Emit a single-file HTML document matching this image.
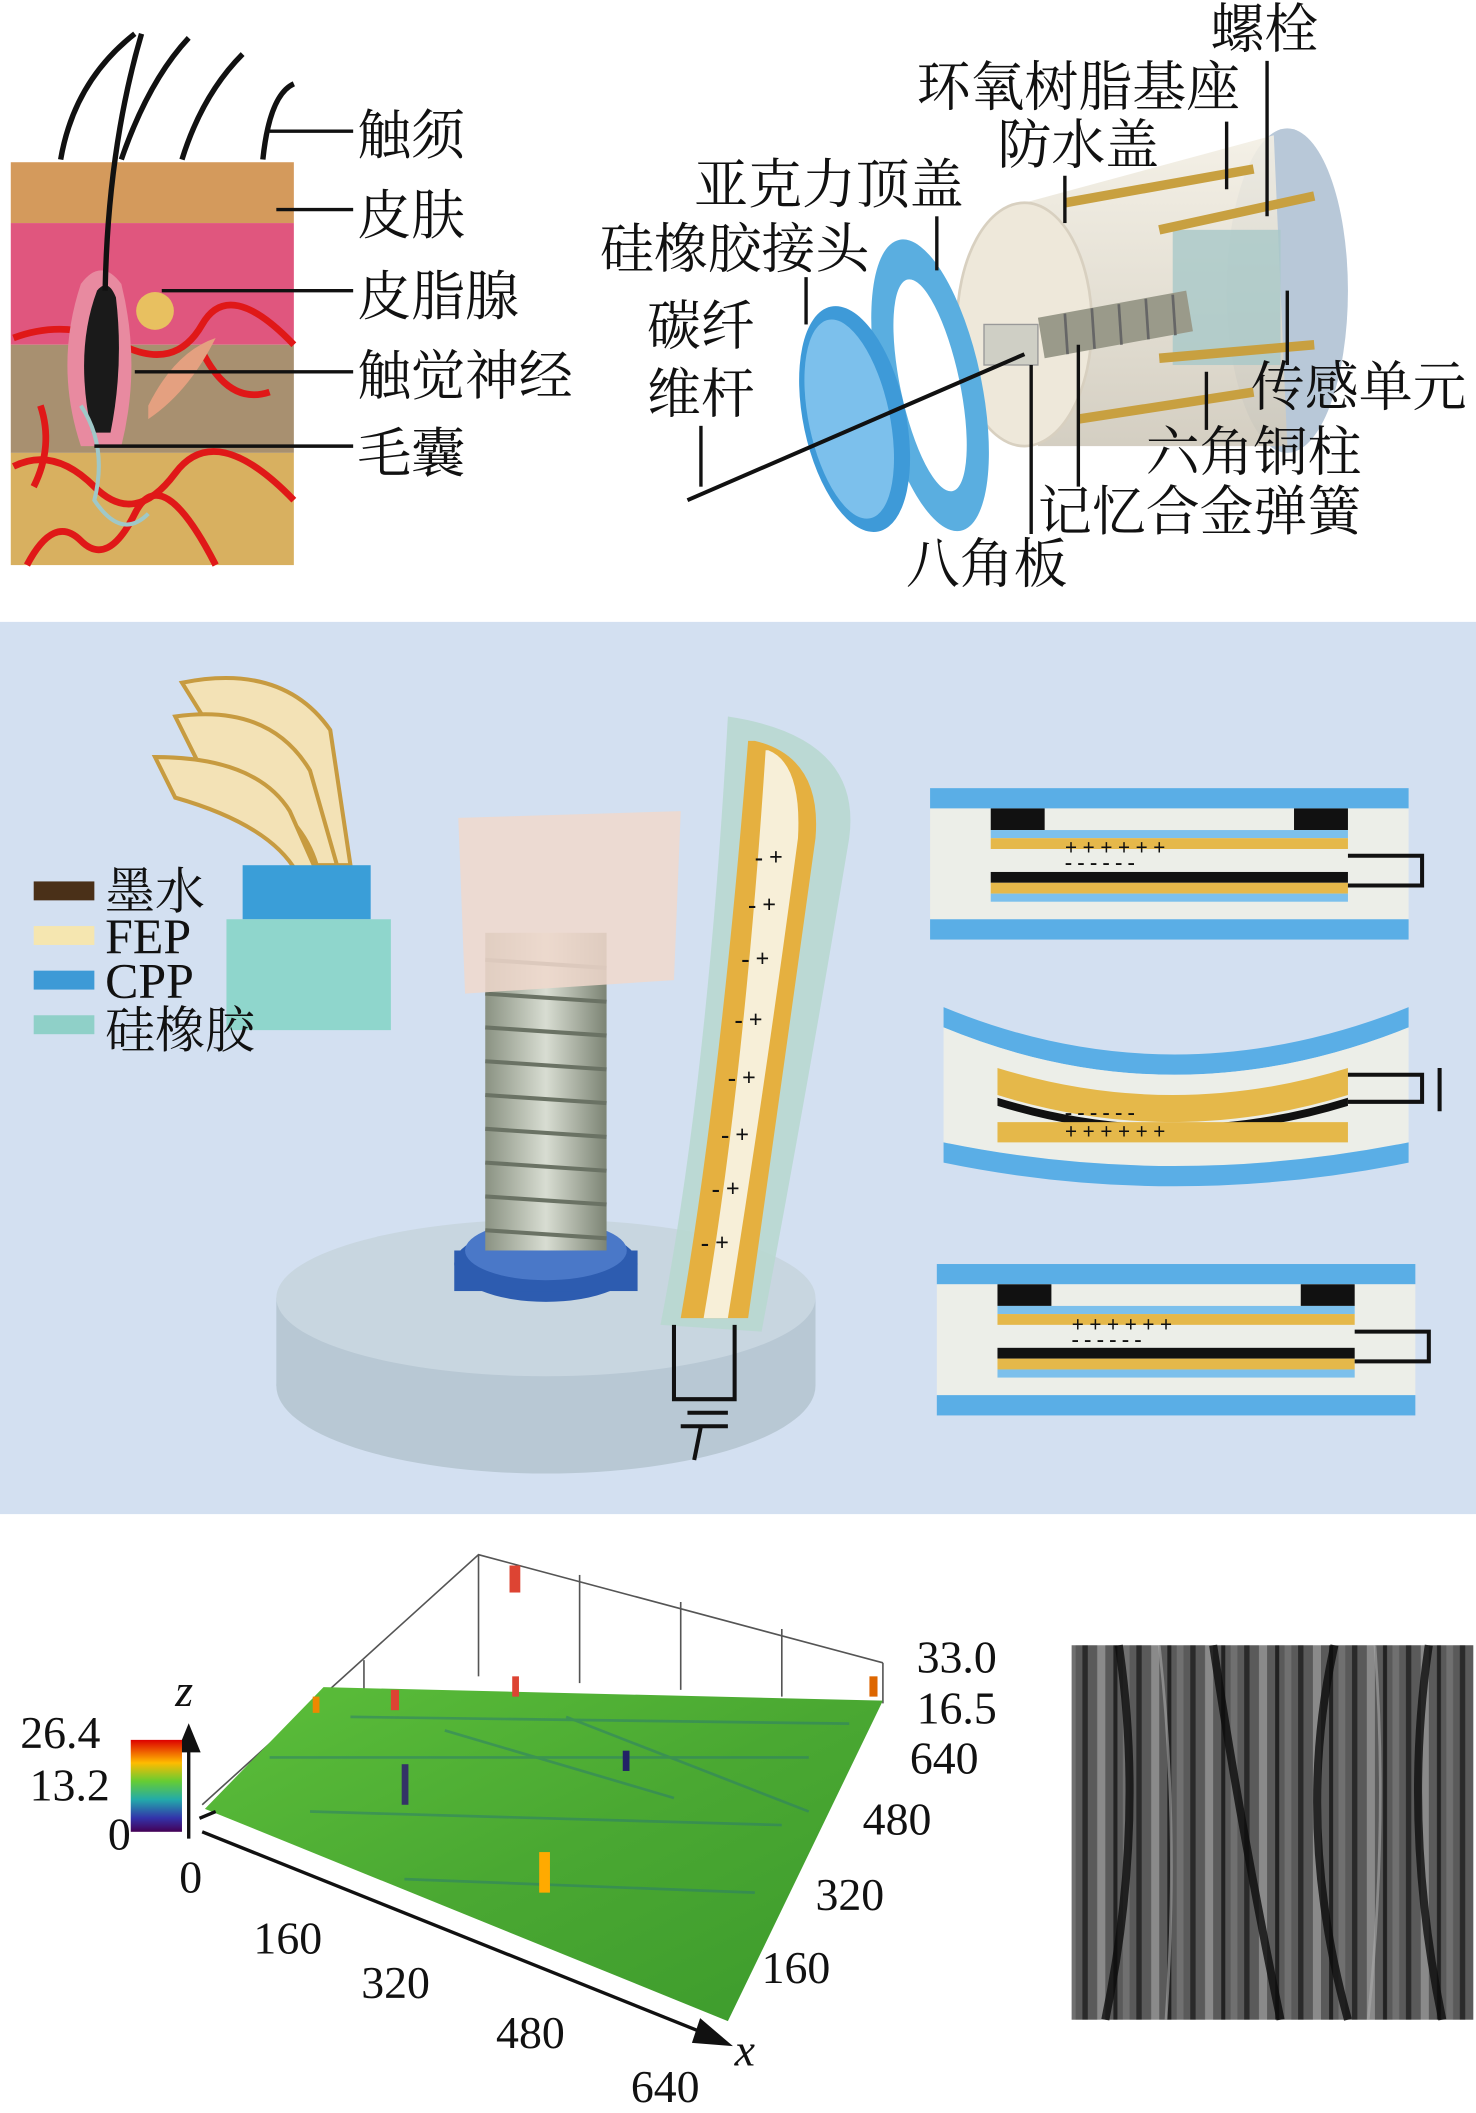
<!DOCTYPE html>
<html><head><meta charset="utf-8"><style>
html,body{margin:0;padding:0;background:#fff;}
svg{display:block;}
text{font-family:"Liberation Serif","Noto Serif CJK SC",serif;fill:#111;}
</style></head><body>
<svg width="1476" height="2113" viewBox="0 0 1095 1563" preserveAspectRatio="none" xmlns="http://www.w3.org/2000/svg">
<defs>
<linearGradient id="rb" x1="0" y1="0" x2="0" y2="1">
<stop offset="0" stop-color="#d00"/><stop offset="0.25" stop-color="#fb0"/><stop offset="0.45" stop-color="#6c3"/><stop offset="0.65" stop-color="#2aa"/><stop offset="0.85" stop-color="#33a"/><stop offset="1" stop-color="#405"/></linearGradient>
<linearGradient id="cyl" x1="0" y1="0" x2="0" y2="1">
<stop offset="0" stop-color="#f3efe4"/><stop offset="0.5" stop-color="#e2ddd0"/><stop offset="1" stop-color="#cfc9bb"/></linearGradient>
<linearGradient id="bolt" x1="0" y1="0" x2="1" y2="0">
<stop offset="0" stop-color="#8a9282"/><stop offset="0.5" stop-color="#d8ddd2"/><stop offset="1" stop-color="#7c8474"/></linearGradient>
<linearGradient id="grn" x1="0" y1="0" x2="1" y2="1">
<stop offset="0" stop-color="#5cbf3a"/><stop offset="0.5" stop-color="#4aa832"/><stop offset="1" stop-color="#3c9a2c"/></linearGradient>
<pattern id="sem" width="40" height="20" patternUnits="userSpaceOnUse">
<rect width="40" height="20" fill="#5a5a5a"/><rect x="3" width="4" height="20" fill="#2a2a2a"/><rect x="14" width="6" height="20" fill="#8a8a8a"/><rect x="26" width="3" height="20" fill="#222"/><rect x="33" width="5" height="20" fill="#707070"/></pattern>
</defs>

<!-- ===== Skin ===== -->
<rect x="8" y="120" width="210" height="45" fill="#d49a5c"/>
<rect x="8" y="165" width="210" height="90" fill="#e0567e"/>
<rect x="8" y="255" width="210" height="80" fill="#a89070"/>
<rect x="8" y="335" width="210" height="83" fill="#d8b060"/>
<g stroke="#e01818" stroke-width="5" fill="none">
<path d="M10 250 Q50 235 90 255 T150 240 T218 255"/>
<path d="M10 345 Q40 330 70 360 T130 350 T218 370"/>
<path d="M20 418 Q40 380 60 400 T100 380 T160 418"/>
<path d="M150 260 Q170 300 200 290"/>
<path d="M30 300 Q40 330 25 360"/>
</g>
<path d="M60 330 Q40 270 60 210 Q75 190 90 210 Q105 270 90 330 Z" fill="#e88aa0"/>
<path d="M68 320 Q55 260 72 215 Q80 205 86 220 Q92 270 82 320 Z" fill="#1a1a1a"/>
<path d="M110 300 Q130 260 160 250 Q140 290 110 310Z" fill="#e4a080"/>
<path d="M60 300 Q80 330 70 370 Q90 400 110 380" stroke="#9fc8c8" stroke-width="3" fill="none"/>
<circle cx="115" cy="230" r="14" fill="#e8c060"/>
<g stroke="#111" stroke-width="4" fill="none">
<path d="M78 215 Q80 110 105 25"/>
<path d="M45 118 Q55 60 100 25"/>
<path d="M90 118 Q110 60 140 28"/>
<path d="M135 118 Q150 70 180 40"/>
<path d="M195 118 Q200 70 218 62"/>
</g>
<g stroke="#111" stroke-width="2.5">
<line x1="200" y1="97" x2="262" y2="97"/>
<line x1="205" y1="155" x2="262" y2="155"/>
<line x1="120" y1="215" x2="262" y2="215"/>
<line x1="100" y1="275" x2="262" y2="275"/>
<line x1="70" y1="330" x2="262" y2="330"/>
</g>
<g font-size="40">
<text x="265" y="114">触须</text>
<text x="265" y="173">皮肤</text>
<text x="265" y="233">皮脂腺</text>
<text x="265" y="292">触觉神经</text>
<text x="265" y="349">毛囊</text>
</g>

<!-- ===== Device ===== -->
<ellipse cx="955" cy="215" rx="45" ry="120" fill="#b8c8d8"/>
<path d="M760 150 L945 100 L955 330 L770 330 Z" fill="url(#cyl)" opacity="0.9"/>
<ellipse cx="760" cy="240" rx="50" ry="90" fill="#eee8da" stroke="#d8d0c0" stroke-width="2"/>
<rect x="870" y="170" width="80" height="100" fill="#a8c8c8" opacity="0.8"/>
<g stroke="#c8a040" stroke-width="7">
<line x1="790" y1="150" x2="930" y2="125"/>
<line x1="800" y1="310" x2="930" y2="290"/>
<line x1="860" y1="170" x2="975" y2="145"/>
<line x1="860" y1="265" x2="975" y2="255"/>
</g>
<path d="M770 235 L880 215 L885 245 L775 265 Z" fill="#9a9a8a"/>
<g stroke="#666" stroke-width="2"><line x1="790" y1="232" x2="792" y2="262"/><line x1="810" y1="228" x2="812" y2="258"/><line x1="830" y1="225" x2="832" y2="255"/><line x1="850" y1="221" x2="852" y2="251"/><line x1="870" y1="218" x2="872" y2="248"/></g>
<rect x="730" y="240" width="40" height="30" fill="#cfcfc5" stroke="#999"/>
<ellipse cx="690" cy="285" rx="38" ry="110" transform="rotate(-12 690 285)" fill="#5aaee0"/>
<ellipse cx="690" cy="285" rx="22" ry="80" transform="rotate(-12 690 285)" fill="#fff"/>
<ellipse cx="634" cy="310" rx="38" ry="85" transform="rotate(-12 634 310)" fill="#3e9ad8"/>
<ellipse cx="630" cy="310" rx="30" ry="75" transform="rotate(-12 630 310)" fill="#7cc0ec"/>
<line x1="510" y1="370" x2="760" y2="262" stroke="#111" stroke-width="3"/>
<g stroke="#111" stroke-width="2.5">
<line x1="940" y1="45" x2="940" y2="160"/>
<line x1="910" y1="90" x2="910" y2="140"/>
<line x1="790" y1="130" x2="790" y2="165"/>
<line x1="695" y1="160" x2="695" y2="200"/>
<line x1="598" y1="205" x2="598" y2="240"/>
<line x1="520" y1="315" x2="520" y2="360"/>
<line x1="955" y1="215" x2="955" y2="270"/>
<line x1="895" y1="275" x2="895" y2="318"/>
<line x1="800" y1="255" x2="800" y2="360"/>
<line x1="765" y1="270" x2="765" y2="395"/>
</g>
<g font-size="40">
<text x="898" y="35">螺栓</text>
<text x="680" y="78">环氧树脂基座</text>
<text x="740" y="121">防水盖</text>
<text x="515" y="150">亚克力顶盖</text>
<text x="445" y="198">硅橡胶接头</text>
<text x="480" y="255">碳纤</text>
<text x="480" y="305">维杆</text>
<text x="928" y="300">传感单元</text>
<text x="850" y="348">六角铜柱</text>
<text x="770" y="392">记忆合金弹簧</text>
<text x="672" y="431">八角板</text>
</g>

<!-- ===== Middle panel ===== -->
<rect x="0" y="460" width="1095" height="660" fill="#d3e0f1"/>
<g stroke="#c79b40" stroke-width="3" fill="#f3e2b6">
<path d="M135 505 Q210 490 245 540 L260 640 L245 640 Q230 560 160 545 Z"/>
<path d="M130 530 Q200 520 230 570 L250 640 L235 640 Q220 590 150 570 Z"/>
<path d="M115 560 Q190 560 215 600 L235 645 L220 645 Q200 610 130 590 Z"/>
</g>
<rect x="180" y="640" width="95" height="40" fill="#3a9ed8"/>
<path d="M168 680 L290 680 L290 762 L168 762 Z" fill="#8fd6cc"/>
<rect x="25" y="652" width="45" height="14" fill="#4a3018"/>
<rect x="25" y="685" width="45" height="14" fill="#f5e6b0"/>
<rect x="25" y="718" width="45" height="14" fill="#3d9ad6"/>
<rect x="25" y="751" width="45" height="14" fill="#8fd0c8"/>
<g font-size="37">
<text x="78" y="672">墨水</text>
<text x="78" y="705">FEP</text>
<text x="78" y="738">CPP</text>
<text x="78" y="775">硅橡胶</text>
</g>
<ellipse cx="405" cy="1025" rx="200" ry="65" fill="#b8c8d4"/>
<rect x="205" y="960" width="400" height="65" fill="#b8c8d4"/>
<ellipse cx="405" cy="960" rx="200" ry="58" fill="#c8d6e0"/>
<ellipse cx="405" cy="935" rx="68" ry="28" fill="#2d5cb0"/>
<rect x="337" y="925" width="136" height="30" fill="#2d5cb0"/>
<ellipse cx="405" cy="925" rx="60" ry="22" fill="#4a78c8"/>
<rect x="360" y="690" width="90" height="235" fill="url(#bolt)"/>
<g stroke="#6a7264" stroke-width="3">
<line x1="360" y1="710" x2="450" y2="716"/><line x1="360" y1="735" x2="450" y2="741"/><line x1="360" y1="760" x2="450" y2="766"/><line x1="360" y1="785" x2="450" y2="791"/><line x1="360" y1="810" x2="450" y2="816"/><line x1="360" y1="835" x2="450" y2="841"/><line x1="360" y1="860" x2="450" y2="866"/><line x1="360" y1="885" x2="450" y2="891"/><line x1="360" y1="910" x2="450" y2="916"/>
</g>
<path d="M340 605 L505 600 L500 725 L345 735 Z" fill="#f0d8cc" opacity="0.85"/>
<path d="M540 530 Q640 545 630 620 Q600 800 565 985 L490 980 Q525 800 540 530 Z" fill="#b8d8d0" opacity="0.9"/>
<path d="M560 548 Q610 560 605 620 Q580 800 555 975 L505 975 Q535 800 555 548 Z" fill="#e5b040"/>
<path d="M570 555 Q595 565 592 620 Q568 800 540 975 L522 975 Q552 800 568 555 Z" fill="#f7efd8"/>
<g font-size="18" font-weight="bold">
<text x="560" y="640">- +</text><text x="555" y="675">- +</text><text x="550" y="715">- +</text><text x="545" y="760">- +</text><text x="540" y="803">- +</text><text x="535" y="845">- +</text><text x="528" y="885">- +</text><text x="520" y="925">- +</text>
</g>
<g stroke="#111" stroke-width="3" fill="none">
<path d="M500 980 L500 1035 L545 1035 L545 980"/>
<line x1="510" y1="1045" x2="540" y2="1045"/><line x1="505" y1="1055" x2="540" y2="1055"/><line x1="520" y1="1055" x2="515" y2="1080"/>
</g>
<g id="s1">
<rect x="690" y="583" width="355" height="15" fill="#5aaee6"/>
<rect x="690" y="598" width="355" height="82" fill="#eceee8"/>
<rect x="690" y="680" width="355" height="15" fill="#5aaee6"/>
<rect x="735" y="598" width="40" height="16" fill="#111"/>
<rect x="960" y="598" width="40" height="16" fill="#111"/>
<rect x="735" y="614" width="265" height="6" fill="#7cc0ec"/>
<rect x="735" y="620" width="265" height="8" fill="#e5b84a"/>
<rect x="735" y="645" width="265" height="8" fill="#111"/>
<rect x="735" y="653" width="265" height="8" fill="#e5b84a"/>
<rect x="735" y="661" width="265" height="6" fill="#7cc0ec"/>
<path d="M1000 633 L1055 633 L1055 655 L1000 655" stroke="#111" stroke-width="3" fill="none"/>
</g>
<g font-size="16" font-weight="bold"><text x="790" y="632">+ + + + + +</text><text x="790" y="643">- - - - - -</text></g>
<use href="#s1" transform="translate(5,352)"/>
<g font-size="16" font-weight="bold"><text x="795" y="985">+ + + + + +</text><text x="795" y="996">- - - - - -</text></g>
<path d="M700 745 Q870 815 1045 745 L1045 760 Q870 830 700 760 Z" fill="#5aaee6"/>
<path d="M700 760 Q870 830 1045 760 L1045 845 Q870 880 700 845 Z" fill="#eceee8"/>
<path d="M740 790 Q870 830 1000 790 L1000 810 Q870 850 740 810 Z" fill="#e5b84a"/>
<path d="M740 812 Q870 852 1000 812 L1000 818 Q870 858 740 818 Z" fill="#111"/>
<path d="M740 830 L1000 830 L1000 845 L740 845 Z" fill="#e5b84a"/>
<path d="M700 845 Q870 880 1045 845 L1045 860 Q870 895 700 860 Z" fill="#5aaee6"/>
<path d="M1000 795 L1055 795 L1055 815 L1000 815" stroke="#111" stroke-width="3" fill="none"/>
<line x1="1068" y1="790" x2="1068" y2="822" stroke="#111" stroke-width="3"/>
<g font-size="16" font-weight="bold"><text x="790" y="828">- - - - - -</text><text x="790" y="842">+ + + + + +</text></g>

<!-- ===== 3D plot ===== -->
<g stroke="#555" stroke-width="1.2" fill="none">
<path d="M150 1335 L355 1150 L655 1230"/>
<line x1="355" y1="1150" x2="355" y2="1240"/>
<line x1="655" y1="1230" x2="655" y2="1260"/>
<line x1="430" y1="1165" x2="430" y2="1245"/><line x1="505" y1="1185" x2="505" y2="1250"/><line x1="580" y1="1205" x2="580" y2="1255"/>
<line x1="270" y1="1228" x2="270" y2="1260"/><line x1="210" y1="1280" x2="210" y2="1300"/>
</g>
<path d="M152 1338 L240 1248 L655 1258 L540 1495 Z" fill="url(#grn)"/>
<g stroke="#2a7a70" stroke-width="2" opacity="0.5">
<line x1="200" y1="1300" x2="600" y2="1300"/><line x1="230" y1="1340" x2="580" y2="1350"/><line x1="300" y1="1390" x2="560" y2="1400"/><line x1="260" y1="1270" x2="630" y2="1275"/>
<line x1="330" y1="1280" x2="500" y2="1330"/><line x1="420" y1="1270" x2="600" y2="1340"/>
</g>
<rect x="378" y="1158" width="8" height="20" fill="#d43"/>
<rect x="290" y="1250" width="6" height="15" fill="#d43"/>
<rect x="380" y="1240" width="5" height="15" fill="#d43"/>
<rect x="232" y="1255" width="5" height="12" fill="#e80"/>
<rect x="298" y="1305" width="5" height="30" fill="#336"/>
<rect x="462" y="1295" width="5" height="15" fill="#226"/>
<rect x="400" y="1370" width="8" height="30" fill="#fa0"/>
<rect x="645" y="1240" width="6" height="15" fill="#d60"/>
<g stroke="#111" stroke-width="2.5" fill="#111">
<line x1="140" y1="1360" x2="140" y2="1290"/><path d="M133 1295 L140 1278 L147 1295 Z"/>
<line x1="150" y1="1355" x2="525" y2="1505"/><path d="M520 1495 L540 1512 L515 1510 Z"/>
<line x1="148" y1="1345" x2="160" y2="1340"/>
</g>
<rect x="97" y="1287" width="38" height="68" fill="url(#rb)"/>
<g font-size="34">
<text x="130" y="1262" font-style="italic">z</text>
<text x="545" y="1528" font-style="italic">x</text>
<text x="15" y="1293">26.4</text><text x="22" y="1332">13.2</text><text x="80" y="1368">0</text>
<text x="133" y="1400">0</text>
<text x="188" y="1445">160</text><text x="268" y="1478">320</text><text x="368" y="1515">480</text><text x="468" y="1555">640</text>
<text x="680" y="1237">33.0</text><text x="680" y="1275">16.5</text><text x="675" y="1312">640</text>
<text x="640" y="1357">480</text><text x="605" y="1413">320</text><text x="565" y="1467">160</text>
</g>
<rect x="795" y="1217" width="298" height="277" fill="url(#sem)"/>
<g stroke="#0c0c0c" stroke-width="6" opacity="0.8" fill="none">
<path d="M830 1217 Q850 1350 820 1494"/><path d="M900 1217 Q920 1350 950 1494"/><path d="M990 1217 Q960 1350 1000 1494"/><path d="M1060 1217 Q1040 1350 1070 1494"/>
</g>
<g stroke="#aaa" stroke-width="2" opacity="0.6" fill="none">
<path d="M860 1217 Q875 1350 865 1494"/><path d="M1020 1217 Q1030 1350 1015 1494"/>
</g>
</svg>
</body></html>
